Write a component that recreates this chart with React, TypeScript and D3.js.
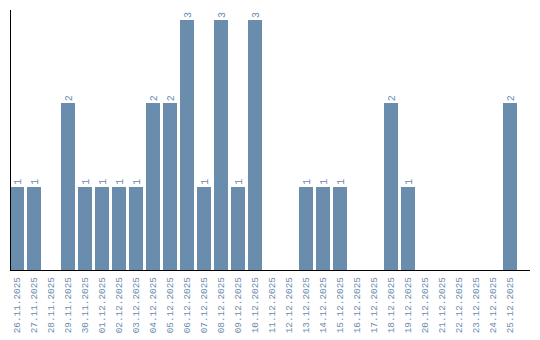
import React from "react";
import * as d3 from "d3";

const dates = [
  "26.11.2025", "27.11.2025", "28.11.2025", "29.11.2025", "30.11.2025",
  "01.12.2025", "02.12.2025", "03.12.2025", "04.12.2025", "05.12.2025",
  "06.12.2025", "07.12.2025", "08.12.2025", "09.12.2025", "10.12.2025",
  "11.12.2025", "12.12.2025", "13.12.2025", "14.12.2025", "15.12.2025",
  "16.12.2025", "17.12.2025", "18.12.2025", "19.12.2025", "20.12.2025",
  "21.12.2025", "22.12.2025", "23.12.2025", "24.12.2025", "25.12.2025",
];
const counts = [
  1, 1, 0, 2, 1,
  1, 1, 1, 2, 2,
  3, 1, 3, 1, 3,
  0, 0, 1, 1, 1,
  0, 0, 2, 1, 0,
  0, 0, 0, 0, 2,
];

const W = 540;
const H = 340;
const BAR = "#6a8cad";
const TXT = "#6a8cad";
const FONT = "'Liberation Mono', monospace";

export default function App() {
  const x = d3
    .scaleBand<string>()
    .domain(dates)
    .range([10, 517])
    .paddingInner(3 / 17)
    .paddingOuter(0);
  const y = d3.scaleLinear().domain([0, 3]).range([270, 20]);
  const bw = x.bandwidth();

  return (
    <svg
      width={W}
      height={H}
      style={{ position: "absolute", left: 0, top: 0 }}
      shapeRendering="crispEdges"
    >
      <rect width={W} height={H} fill="#fff" />
      {dates.map((d, i) => {
        const v = counts[i];
        const x0 = x(d)!;
        const cx = x0 + bw / 2;
        return (
          <g key={d}>
            {v > 0 && (
              <rect x={x0} y={y(v)} width={bw} height={y(0) - y(v)} fill={BAR} />
            )}
            {v > 0 && (
              <text
                transform={`translate(${cx},${y(v) - 2}) rotate(-90)`}
                dy="0.35em"
                textAnchor="start"
                fontFamily={FONT}
                fontSize={10}
                fill={TXT}
              >
                {v}
              </text>
            )}
            <text
              transform={`translate(${cx},277) rotate(-90)`}
              dy="0.35em"
              textAnchor="end"
              fontFamily={FONT}
              fontSize={9.4}
              fill={TXT}
            >
              {d}
            </text>
          </g>
        );
      })}
      <line x1={10.5} y1={10} x2={10.5} y2={270} stroke="#000" strokeWidth={1} />
      <line x1={10} y1={270.5} x2={530} y2={270.5} stroke="#000" strokeWidth={1} />
    </svg>
  );
}
